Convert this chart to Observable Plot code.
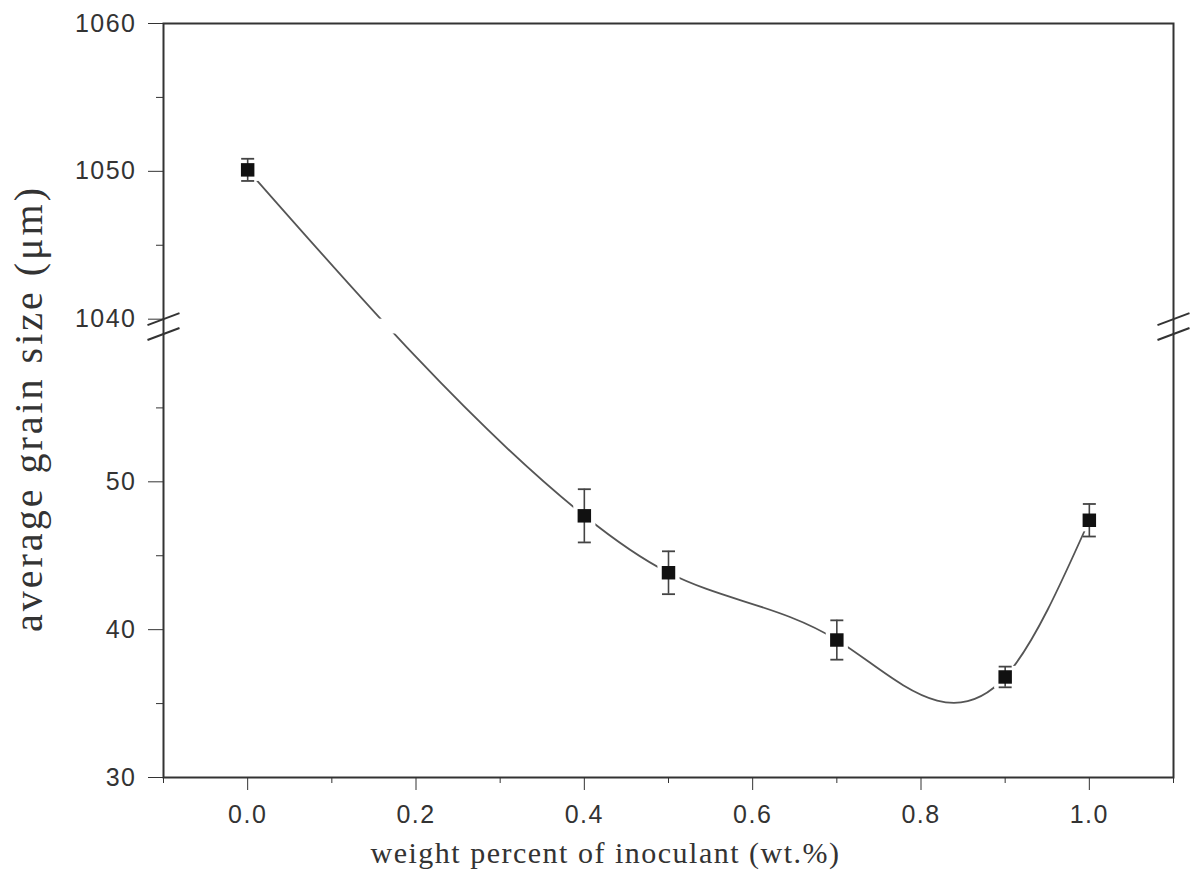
<!DOCTYPE html>
<html>
<head>
<meta charset="utf-8">
<script src="https://cdn.jsdelivr.net/npm/d3@7"></script>
<script src="https://cdn.jsdelivr.net/npm/@observablehq/plot@0.6"></script>
<style>
  html, body { margin: 0; padding: 0; background: #fff; }
  #chart svg { display: block; }
  [aria-label$="tick label"] text { letter-spacing: 1.5px; }
  .xtitle text { letter-spacing: 1.5px; }
  .ytitle text { letter-spacing: 3px; }
</style>
</head>
<body>
<div id="chart"></div>
<script>
// ---- data ----
const inoculant = [0.0, 0.4, 0.5, 0.7, 0.9, 1.0];          // wt.%
const grainSize = [1050.1, 47.7, 43.85, 39.3, 36.8, 47.4];  // µm
const grainErr  = [0.75, 1.8, 1.45, 1.33, 0.7, 1.1];        // µm

const xDomain = [-0.1, 1.1];
const xTicks = [0.0, 0.2, 0.4, 0.6, 0.8, 1.0];
const xMinorTicks = [-0.1, 0.1, 0.3, 0.5, 0.7, 0.9, 1.1];
const yTicks = [30, 40, 50, 1040, 1050, 1060];
const yMinorTicks = [35, 45, 55, 1045, 1055];
const yRange = [30, 1060];
const yBreak = [60, 1040];   // top of lower segment, bottom of upper segment

const xTitle = "weight percent of inoculant (wt.%)";
const yTitle = "average grain size (\u03bcm)";

// broken axis: upper segment shifted down to sit just above the lower segment
const shift = yBreak[1] - yBreak[0] - 1;
const toV = v => v > (yBreak[0] + yBreak[1]) / 2 ? v - shift : v;
const fromV = v => v > yBreak[0] + 0.5 ? v + shift : v;

const data = inoculant.map((x, i) => ({
  x,
  y: toV(grainSize[i]),
  lo: toV(grainSize[i] - grainErr[i]),
  hi: toV(grainSize[i] + grainErr[i])
}));

// natural cubic spline y(x) as a d3 curve
function splineX(context) {
  let xs, ys;
  return {
    areaStart() {}, areaEnd() {},
    lineStart() { xs = []; ys = []; },
    point(x, y) { xs.push(+x); ys.push(+y); },
    lineEnd() {
      const n = xs.length;
      if (!n) return;
      context.moveTo(xs[0], ys[0]);
      if (n < 3) { for (let i = 1; i < n; i++) context.lineTo(xs[i], ys[i]); return; }
      const h = [];
      for (let i = 0; i < n - 1; i++) h.push(xs[i + 1] - xs[i]);
      const M = new Array(n).fill(0);
      const a = [], b = [], c = [], d = [];
      for (let i = 1; i < n - 1; i++) {
        a[i] = h[i - 1]; b[i] = 2 * (h[i - 1] + h[i]); c[i] = h[i];
        d[i] = 6 * ((ys[i + 1] - ys[i]) / h[i] - (ys[i] - ys[i - 1]) / h[i - 1]);
      }
      // Thomas algorithm
      const cp = [], dp = [];
      for (let i = 1; i < n - 1; i++) {
        const den = b[i] - (i > 1 ? a[i] * cp[i - 1] : 0);
        cp[i] = c[i] / den;
        dp[i] = (d[i] - (i > 1 ? a[i] * dp[i - 1] : 0)) / den;
      }
      for (let i = n - 2; i >= 1; i--) M[i] = dp[i] - cp[i] * (i < n - 2 ? M[i + 1] : 0);
      for (let i = 0; i < n - 1; i++) {
        const hi = h[i], s = (ys[i + 1] - ys[i]) / hi;
        const d0 = s - hi * (2 * M[i] + M[i + 1]) / 6;
        const d1 = s + hi * (M[i] + 2 * M[i + 1]) / 6;
        context.bezierCurveTo(xs[i] + hi / 3, ys[i] + d0 * hi / 3,
                              xs[i + 1] - hi / 3, ys[i + 1] - d1 * hi / 3,
                              xs[i + 1], ys[i + 1]);
      }
    }
  };
}

const capSymbol = { draw(ctx) { ctx.moveTo(-6.5, 0); ctx.lineTo(6.5, 0); } };
const slashSymbol = { draw(ctx) { ctx.moveTo(-16, 6); ctx.lineTo(16, -6); } };

const breakMarks = [];
for (const x of xDomain) for (const y of [yBreak[0], toV(yBreak[1])]) breakMarks.push({ x, y });

const ink = "#333";

const chart = Plot.plot({
  width: 1191,
  height: 893,
  marginLeft: 163,
  marginRight: 18,
  marginTop: 23,
  marginBottom: 116,
  style: { fontFamily: "'Liberation Sans', Arial, sans-serif", fontSize: "25px", color: ink, background: "#fff" },
  x: { domain: xDomain },
  y: { domain: [toV(yRange[0]), toV(yRange[1])] },
  marks: [
    Plot.line(data, { x: "x", y: "y", curve: splineX, stroke: "#555", strokeWidth: 1.8 }),
    // gap of the broken axis
    Plot.rect([0], { x1: xDomain[0], x2: xDomain[1], y1: yBreak[0], y2: toV(yBreak[1]), fill: "#fff" }),
    // white halo around markers (line stops short of the symbols)
    Plot.dot(data, { x: "x", y: "y", symbol: "square", r: 12.5, fill: "#fff" }),
    Plot.ruleX(data, { x: "x", y1: "lo", y2: "hi", stroke: "#444", strokeWidth: 1.6 }),
    Plot.dot(data, { x: "x", y: "lo", symbol: capSymbol, r: 5, fill: "none", stroke: "#444", strokeWidth: 1.8 }),
    Plot.dot(data, { x: "x", y: "hi", symbol: capSymbol, r: 5, fill: "none", stroke: "#444", strokeWidth: 1.8 }),
    Plot.dot(data, { x: "x", y: "y", symbol: "square", r: 7.6, fill: "#111" }),
    Plot.frame({ stroke: ink, strokeWidth: 2 }),
    Plot.axisX({ ticks: xTicks, tickFormat: d => d.toFixed(1), tickSize: 13, tickPadding: 15, tickStrokeWidth: 2, label: null, stroke: ink }),
    Plot.axisX({ ticks: xMinorTicks, tickFormat: () => "", tickSize: 6, tickStrokeWidth: 2, label: null, stroke: ink }),
    Plot.axisY({ ticks: yTicks.map(toV), tickFormat: d => String(Math.round(fromV(d))), tickSize: 15, tickPadding: 12, tickStrokeWidth: 1.6, label: null, stroke: ink }),
    Plot.axisY({ ticks: yMinorTicks.map(toV), tickFormat: () => "", tickSize: 7, tickStrokeWidth: 1.6, label: null, stroke: ink }),
    Plot.dot(breakMarks, { x: "x", y: "y", symbol: slashSymbol, r: 5, fill: "none", stroke: ink, strokeWidth: 2 }),
    Plot.text([xTitle], { frameAnchor: "bottom", text: d => d, textAnchor: "middle", dx: -63, dy: 85, fontFamily: "'Liberation Serif', 'Times New Roman', serif", fontSize: 30, fill: ink, className: "xtitle" }),
    Plot.text([yTitle], { frameAnchor: "left", text: d => d, textAnchor: "middle", rotate: -90, dx: -134, dy: 8, fontFamily: "'Liberation Serif', 'Times New Roman', serif", fontSize: 40, fill: ink, className: "ytitle" })
  ]
});
document.getElementById("chart").appendChild(chart);
</script>
</body>
</html>
